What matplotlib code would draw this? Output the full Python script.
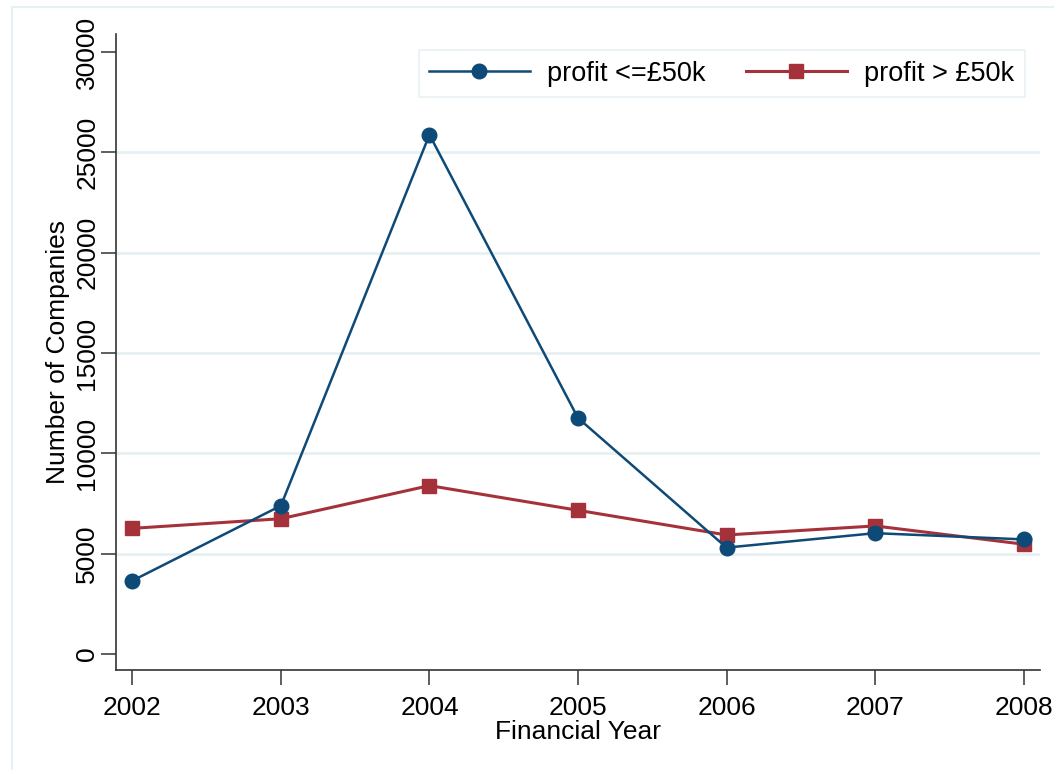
import matplotlib
matplotlib.use("Agg")
import matplotlib.pyplot as plt
from matplotlib.patches import Rectangle

years = [2002, 2003, 2004, 2005, 2006, 2007, 2008]
profit_low = [3650, 7390, 25880, 11760, 5300, 6020, 5710]
profit_high = [6260, 6740, 8390, 7160, 5930, 6380, 5470]
yticks = [0, 5000, 10000, 15000, 20000, 25000, 30000]
grid_vals = [5000, 10000, 15000, 20000, 25000]
labels = ["profit <=£50k", "profit > £50k"]

plt.rcParams['font.family'] = ['Liberation Sans', 'DejaVu Sans']

W, H = 1054, 770
fig = plt.figure(figsize=(W / 100, H / 100), dpi=100)
fig.patch.set_facecolor("white")
# outer graph region frame
fig.patches.append(Rectangle((12 / W, -0.05), 1.2, (H - 7) / H + 0.05,
                             transform=fig.transFigure, fill=False,
                             edgecolor="#e3eef2", linewidth=1.2))

ax = fig.add_axes([116 / W, 1 - 670 / H, (1040 - 116) / W, (670 - 34) / H])
ax.set_facecolor("white")

for g in grid_vals:
    ax.axhline(g, color="#e6f0f2", linewidth=2, zorder=0)

blue = "#0d4a78"
red = "#a5323a"
ax.plot(years, profit_low, color=blue, linewidth=1.8, marker="o",
        markersize=10.5, label=labels[0], zorder=3)
ax.plot(years, profit_high, color=red, linewidth=2.2, marker="s",
        markersize=10, label=labels[1], zorder=2)

ax.set_xlim(2001.89, 2008.11)
ax.set_ylim(-800, 30900)
ax.set_xticks(years)
ax.set_xticklabels([str(y) for y in years])
ax.set_yticks(yticks)
ax.set_yticklabels([str(v) for v in yticks], rotation=90, va="center")

for s in ["top", "right"]:
    ax.spines[s].set_visible(False)
for s in ["left", "bottom"]:
    ax.spines[s].set_color("#333333")
    ax.spines[s].set_linewidth(1.2)

ax.tick_params(axis="both", direction="out", length=11, width=1.1,
               color="#333333", labelsize=19)
ax.tick_params(axis="x", pad=8)
ax.tick_params(axis="y", pad=1)

ax.set_xlabel("Financial Year", fontsize=19, labelpad=0)
ax.set_ylabel("Number of Companies", fontsize=19, labelpad=4)

leg = ax.legend(loc="upper right", ncol=2, fontsize=19.5, frameon=True,
                fancybox=False, edgecolor="#e3eef2", borderpad=0.4,
                handlelength=3.7, columnspacing=1.5, handletextpad=0.65,
                bbox_to_anchor=(0.9985, 0.9965))
leg.get_frame().set_linewidth(1.2)

fig.savefig("out.png", dpi=100, facecolor="white")
